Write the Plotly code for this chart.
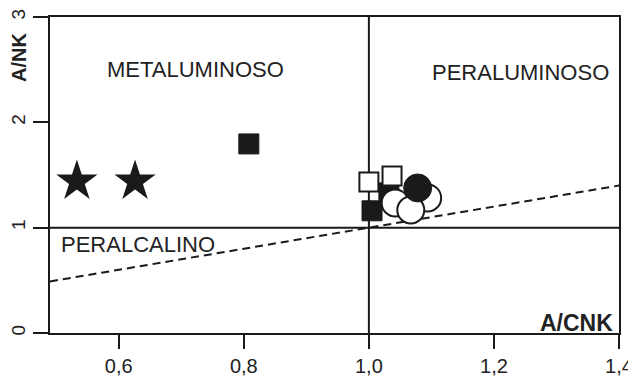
import plotly.graph_objects as go

# ---- data ----
star_x = [0.533, 0.626]
star_y = [1.44, 1.44]
fsq_x = [0.808, 1.005, 1.032]
fsq_y = [1.795, 1.16, 1.33]
osq_x = [1.000, 1.037]
osq_y = [1.434, 1.491]
ocirc_x = [1.042, 1.094, 1.067]
ocirc_y = [1.235, 1.282, 1.168]
fcirc_x = [1.078]
fcirc_y = [1.377]

div_x = [0.49, 1.40]
div_y = [0.49, 1.40]

x_ticks = [0.6, 0.8, 1.0, 1.2, 1.4]
x_ticklabels = ["0,6", "0,8", "1,0", "1,2", "1,4"]
y_ticks = [0, 1, 2, 3]
y_ticklabels = ["0", "1", "2", "3"]

X_RANGE = [0.49, 1.40]
Y_RANGE = [0, 3]

INK = "#1a1a1a"
FONT = "Liberation Sans, Arial, sans-serif"

fig = go.Figure()

# dashed boundary
fig.add_trace(go.Scatter(x=div_x, y=div_y, mode="lines",
                         line=dict(color=INK, width=2, dash="8px,5px"),
                         hoverinfo="skip"))

fig.add_trace(go.Scatter(x=star_x, y=star_y, mode="markers",
                         marker=dict(symbol="star", size=31, color=INK,
                                     line=dict(width=0))))
fig.add_trace(go.Scatter(x=fsq_x, y=fsq_y, mode="markers",
                         marker=dict(symbol="square", size=20, color=INK,
                                     line=dict(width=1, color=INK))))
fig.add_trace(go.Scatter(x=osq_x, y=osq_y, mode="markers",
                         marker=dict(symbol="square", size=19, color="white",
                                     line=dict(width=2, color=INK))))
fig.add_trace(go.Scatter(x=ocirc_x, y=ocirc_y, mode="markers",
                         marker=dict(symbol="circle", size=27, color="white",
                                     line=dict(width=2, color=INK))))
fig.add_trace(go.Scatter(x=fcirc_x, y=fcirc_y, mode="markers",
                         marker=dict(symbol="circle", size=28, color=INK,
                                     line=dict(width=1, color=INK))))

# field boundaries
fig.add_shape(type="line", x0=1.0, x1=1.0, y0=Y_RANGE[0], y1=Y_RANGE[1],
              line=dict(color=INK, width=2), layer="below")
fig.add_shape(type="line", x0=X_RANGE[0], x1=X_RANGE[1], y0=1.0, y1=1.0,
              line=dict(color=INK, width=2), layer="below")

lab_font = dict(family=FONT, size=22, color="#222")
fig.add_annotation(x=0.722, y=2.50, text="METALUMINOSO", showarrow=False, font=lab_font)
fig.add_annotation(x=1.242, y=2.47, text="PERALUMINOSO", showarrow=False, font=lab_font)
fig.add_annotation(x=0.630, y=0.836, text="PERALCALINO", showarrow=False, font=lab_font)
fig.add_annotation(x=1.394, y=0.095, text="<b>A/CNK</b>", showarrow=False,
                   xanchor="right", font=dict(family=FONT, size=23, color="#222"))
fig.add_annotation(xref="paper", x=-0.0545, y=2.62, text="<b>A/NK</b>", showarrow=False,
                   xanchor="center", yanchor="middle",
                   textangle=-90, font=dict(family=FONT, size=20, color="#222"))

# the page body adds an 8px offset; size the figure to fill the rest of the window
fig.update_layout(
    width=628, height=368,
    margin=dict(l=42, r=17, t=9, b=43, autoexpand=False),
    paper_bgcolor="white", plot_bgcolor="white",
    showlegend=False,
)
fig.update_xaxes(range=X_RANGE, tickvals=x_ticks, ticktext=x_ticklabels,
                 automargin=False,
                 showgrid=False, zeroline=False,
                 showline=True, mirror=True, linecolor=INK, linewidth=2,
                 ticks="outside", ticklen=14, tickwidth=2, tickcolor=INK,
                 ticklabelstandoff=0,
                 tickfont=dict(family=FONT, size=20, color="#222"))
fig.update_yaxes(range=Y_RANGE, tickvals=y_ticks, ticktext=y_ticklabels,
                 automargin=False,
                 showgrid=False, zeroline=False,
                 showline=True, mirror=True, linecolor=INK, linewidth=2,
                 ticks="outside", ticklen=15, tickwidth=2, tickcolor=INK,
                 tickangle=-90, ticklabelstandoff=0,
                 tickfont=dict(family=FONT, size=19, color="#222"))

fig.write_html("out.html")
